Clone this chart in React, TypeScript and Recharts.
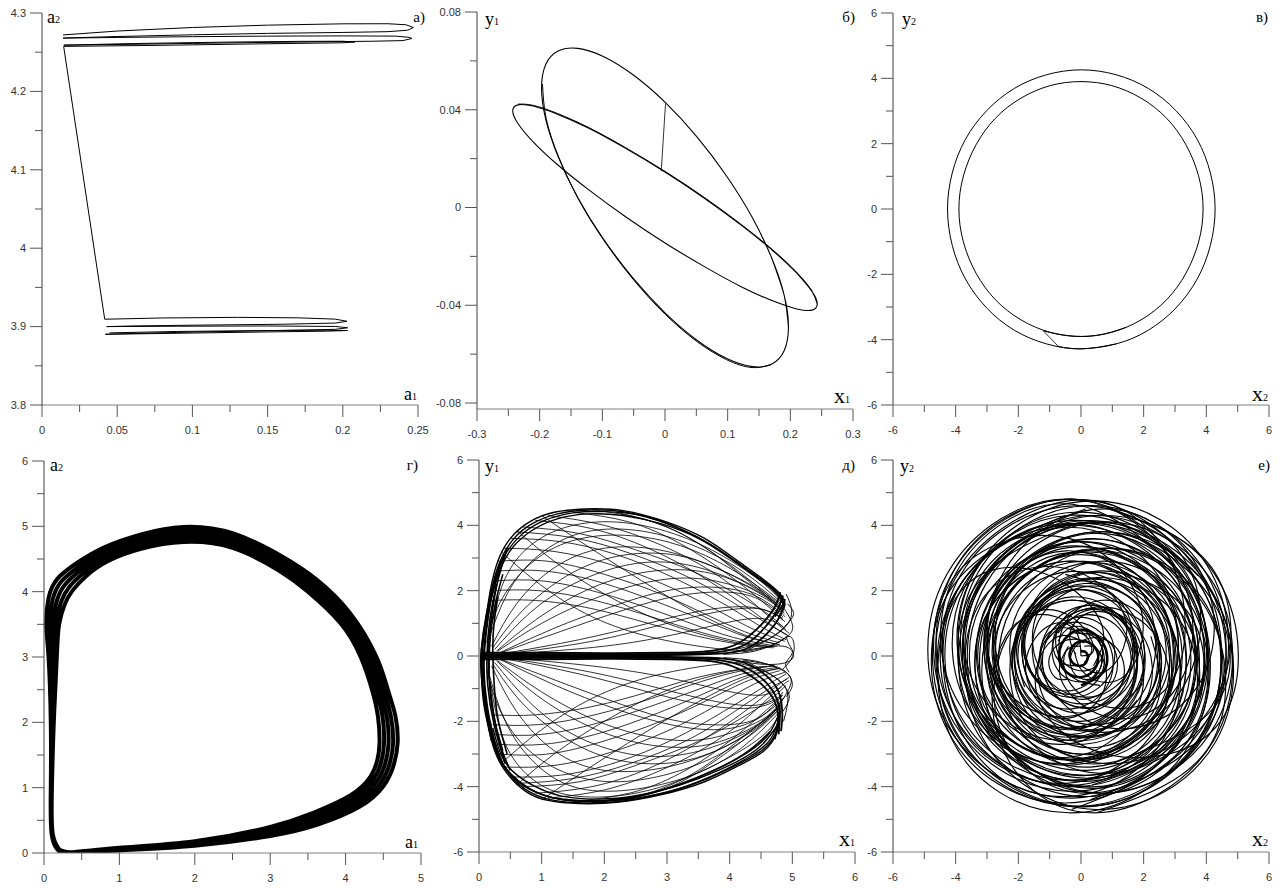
import React from 'react';
import { LineChart, Line, XAxis, YAxis } from 'recharts';

type Pt = [number, number];
type Series = { pts: Pt[]; w?: number; curve?: 'linear' | 'natural' };

// ---- а) a1–a2 ----
const aXMajor = [0, 0.05, 0.1, 0.15, 0.2, 0.25];
const aXMinor = [0.025, 0.075, 0.125, 0.175, 0.225];
const aYMajor = [3.8, 3.9, 4, 4.1, 4.2, 4.3];
const aYMinor = [3.85, 3.95, 4.05, 4.15, 4.25];

const aUpper: Pt[] = [
  [0.014, 4.272], [0.05, 4.277], [0.1, 4.2815], [0.15, 4.2845], [0.2, 4.2862], [0.23, 4.2863],
  [0.242, 4.285], [0.247, 4.2815], [0.243, 4.278], [0.23, 4.2762], [0.2, 4.2752], [0.15, 4.274],
  [0.1, 4.2722], [0.05, 4.27], [0.014, 4.268], [0.05, 4.2688], [0.1, 4.2698], [0.15, 4.2705],
  [0.2, 4.2708], [0.235, 4.2705], [0.244, 4.269], [0.246, 4.2675], [0.24, 4.2648], [0.22, 4.264],
  [0.15, 4.2625], [0.1, 4.2612], [0.05, 4.2598], [0.0145, 4.259], [0.06, 4.261], [0.12, 4.2628],
  [0.17, 4.2638], [0.2, 4.264], [0.208, 4.263], [0.2, 4.262], [0.14, 4.2605], [0.08, 4.2588],
  [0.0144, 4.2574],
];
const aDrop: Pt[] = [[0.0144, 4.2574], [0.0417, 3.9094]];
const aLower: Pt[] = [
  [0.0417, 3.9094], [0.08, 3.911], [0.13, 3.9118], [0.17, 3.9112], [0.195, 3.9095], [0.2028, 3.9068],
  [0.195, 3.9045], [0.16, 3.903], [0.1, 3.9018], [0.06, 3.9008], [0.043, 3.9], [0.09, 3.9005],
  [0.15, 3.9008], [0.195, 3.9002], [0.2032, 3.8985], [0.195, 3.8965], [0.15, 3.8948], [0.1, 3.893],
  [0.06, 3.8912], [0.0421, 3.8902], [0.09, 3.8915], [0.15, 3.8932], [0.19, 3.8942], [0.2032, 3.895],
  [0.19, 3.8954], [0.14, 3.8948], [0.09, 3.8938], [0.045, 3.892],
];

// ---- б) x1–y1 ----
const bXMajor = [-0.3, -0.2, -0.1, 0, 0.1, 0.2, 0.3];
const bXMinor = [-0.25, -0.15, -0.05, 0.05, 0.15, 0.25];
const bYMajor = [-0.08, -0.04, 0, 0.04, 0.08];
const bYMinor = [-0.06, -0.02, 0.02, 0.06];

const bWide: Pt[] = [
  [0.197, -0.049], [0.1903, -0.0361], [0.1706, -0.0209], [0.1393, -0.0041], [0.0985, 0.0128],
  [0.051, 0.0289], [0, 0.0431], [-0.051, 0.0543], [-0.0985, 0.0618], [-0.1393, 0.0651],
  [-0.1706, 0.064], [-0.1903, 0.0585], [-0.197, 0.049], [-0.1903, 0.0361], [-0.1706, 0.0209],
  [-0.1393, 0.0041], [-0.0985, -0.0128], [-0.051, -0.0289], [0, -0.0431], [0.051, -0.0543],
  [0.0985, -0.0618], [0.1393, -0.0651], [0.1706, -0.064], [0.1903, -0.0585], [0.197, -0.049],
  [0.1903, -0.0361], [0.1706, -0.0209],
];
const bWideTrace: Pt[] = [
  [-0.1955, 0.0505], [-0.1895, 0.0363], [-0.1697, 0.0207], [-0.1385, 0.0036], [-0.0978, -0.0134],
  [-0.0505, -0.0295], [0.0003, -0.0437], [0.0512, -0.0549], [0.0985, -0.0623], [0.139, -0.0655],
  [0.1695, -0.0643],
];
const bFlat: Pt[] = [
  [0.243, -0.0395], [0.2347, -0.0344], [0.2104, -0.0269], [0.1718, -0.0176], [0.1215, -0.0072],
  [0.0629, 0.0038], [0, 0.0145], [-0.0629, 0.0242], [-0.1215, 0.0324], [-0.1718, 0.0382],
  [-0.2104, 0.0415], [-0.2347, 0.042], [-0.243, 0.0395], [-0.2347, 0.0344], [-0.2104, 0.0269],
  [-0.1718, 0.0176], [-0.1215, 0.0072], [-0.0629, -0.0038], [0, -0.0145], [0.0629, -0.0242],
  [0.1215, -0.0324], [0.1718, -0.0382], [0.2104, -0.0415], [0.2347, -0.042], [0.243, -0.0395],
  [0.2347, -0.0344], [0.2104, -0.0269],
];
const bFlatTrace: Pt[] = [
  [-0.2347, 0.0423], [-0.2104, 0.0418], [-0.1718, 0.0385], [-0.1215, 0.0327], [-0.0629, 0.0245],
  [0, 0.0148], [0.0629, 0.0041], [0.1215, -0.0069], [0.1718, -0.0173], [0.2104, -0.0266],
  [0.2347, -0.0341],
];
const bJump: Pt[] = [[0.0008, 0.0425], [-0.006, 0.0148]];

// ---- в) x2–y2 ----
const sixMajor = [-6, -4, -2, 0, 2, 4, 6];
const sixMinor = [-5, -3, -1, 1, 3, 5];

// both rings start where the short transient joins them
const cOuter: Pt[] = [
  [-0.72, -4.21], [0.01, -4.28], [1.12, -4.13], [2.15, -3.71], [3.03, -3.03], [3.71, -2.14],
  [4.13, -1.11], [4.28, 0], [4.13, 1.1], [3.71, 2.13], [3.03, 3.01], [2.15, 3.69], [1.12, 4.11],
  [0.01, 4.26], [-1.1, 4.11], [-2.13, 3.69], [-3.01, 3.01], [-3.69, 2.13], [-4.11, 1.1], [-4.26, 0],
  [-4.11, -1.11], [-3.69, -2.14], [-3.01, -3.03], [-2.13, -3.71], [-1.1, -4.13], [0.01, -4.28],
  [1.12, -4.13],
];
const cInner: Pt[] = [
  [-1.2, -3.73], [-0.4, -3.88], [0.5, -3.87], [1.45, -3.62], [2.35, -3.11], [3.07, -2.39],
  [3.58, -1.5], [3.86, -0.51], [3.86, 0.51], [3.58, 1.5], [3.07, 2.39], [2.35, 3.11], [1.45, 3.62],
  [0.5, 3.87], [-0.5, 3.87], [-1.45, 3.62], [-2.35, 3.11], [-3.07, 2.39], [-3.58, 1.5],
  [-3.86, 0.51], [-3.86, -0.51], [-3.58, -1.5], [-3.07, -2.39], [-2.35, -3.11], [-1.45, -3.62],
  [-0.5, -3.87], [0.5, -3.87], [1.45, -3.62],
];
const cJump: Pt[] = [[-1.2, -3.73], [-0.72, -4.21]];

// ---- г) a1–a2 ----
const gXMajor = [0, 1, 2, 3, 4, 5];
const gXMinor = [0.5, 1.5, 2.5, 3.5, 4.5];
const gYMajor = [0, 1, 2, 3, 4, 5, 6];
const gYMinor = [0.5, 1.5, 2.5, 3.5, 4.5, 5.5];

const gLoops: Pt[][] = [
  [[0.35, 0], [1, 0.04], [2, 0.11], [3, 0.26], [3.62, 0.43], [4.19, 0.71], [4.5, 1.02], [4.63, 1.32],
   [4.69, 1.68], [4.66, 2.1], [4.56, 2.5], [4.41, 3.0], [4.06, 3.67], [3.62, 4.18], [3.17, 4.53],
   [2.51, 4.89], [1.85, 4.99], [1.3, 4.88], [0.8, 4.68], [0.45, 4.45], [0.18, 4.2], [0.06, 3.9],
   [0.03, 3.5], [0.06, 3], [0.09, 2], [0.09, 1], [0.1, 0.3], [0.18, 0.05]],
  [[0.35, 0.005], [1, 0.06], [2, 0.145], [3, 0.33], [3.6, 0.525], [4.125, 0.795], [4.415, 1.095],
   [4.525, 1.37], [4.57, 1.68], [4.545, 2.09], [4.455, 2.5], [4.305, 3.0], [3.995, 3.595],
   [3.56, 4.09], [3.145, 4.425], [2.505, 4.78], [1.85, 4.875], [1.3, 4.77], [0.825, 4.575],
   [0.5, 4.34], [0.28, 4.11], [0.17, 3.86], [0.115, 3.5], [0.12, 3], [0.11, 2], [0.097, 1],
   [0.108, 0.3], [0.19, 0.055]],
  [[0.35, 0.003], [1, 0.05], [2, 0.128], [3, 0.295], [3.61, 0.478], [4.158, 0.753], [4.458, 1.058],
   [4.578, 1.345], [4.63, 1.68], [4.6, 2.095], [4.508, 2.5], [4.358, 3.0], [4.03, 3.633],
   [3.59, 4.135], [3.16, 4.478], [2.51, 4.835], [1.85, 4.933], [1.3, 4.825], [0.81, 4.628],
   [0.475, 4.395], [0.23, 4.155], [0.115, 3.88], [0.07, 3.5], [0.09, 3], [0.1, 2], [0.093, 1],
   [0.104, 0.3], [0.185, 0.053]],
  [[0.35, 0.01], [1, 0.08], [2, 0.18], [3, 0.4], [3.58, 0.62], [4.06, 0.88], [4.33, 1.17],
   [4.42, 1.42], [4.45, 1.68], [4.43, 2.08], [4.35, 2.5], [4.2, 3.0], [3.93, 3.52], [3.5, 4],
   [3.12, 4.32], [2.5, 4.67], [1.85, 4.76], [1.3, 4.66], [0.85, 4.47], [0.55, 4.23], [0.38, 4.02],
   [0.28, 3.82], [0.2, 3.5], [0.17, 3], [0.13, 2], [0.105, 1], [0.115, 0.3], [0.2, 0.06]],
  [[0.35, 0.008], [1, 0.07], [2, 0.163], [3, 0.365], [3.59, 0.573], [4.093, 0.838], [4.373, 1.133],
   [4.473, 1.395], [4.51, 1.68], [4.49, 2.085], [4.403, 2.5], [4.253, 3.0], [3.96, 3.558],
   [3.53, 4.045], [3.13, 4.373], [2.5, 4.725], [1.85, 4.818], [1.3, 4.715], [0.84, 4.523],
   [0.525, 4.285], [0.33, 4.065], [0.225, 3.84], [0.16, 3.5], [0.14, 3], [0.12, 2], [0.101, 1],
   [0.112, 0.3], [0.195, 0.058], [0.35, 0.004]],
];

// ---- д) x1–y1 ----
const dXMajor = [0, 1, 2, 3, 4, 5, 6];
const dXMinor = [0.5, 1.5, 2.5, 3.5, 4.5, 5.5];

const dBand: Pt[][] = [
  [[0.05, 0.05], [1, 0.06], [2, 0.05], [3, 0.06], [3.8, 0.12], [4.25, 0.35], [4.55, 0.85], [4.76, 1.4], [4.85, 1.85]],
  [[0.05, 0.1], [1, 0.1], [2, 0.09], [3, 0.1], [3.7, 0.16], [4.15, 0.4], [4.5, 0.95], [4.72, 1.5], [4.81, 1.95]],
  [[0.05, 0], [1, 0.02], [2, 0.02], [3, 0.03], [3.9, 0.08], [4.35, 0.3], [4.65, 0.8], [4.82, 1.3], [4.88, 1.75]],
  [[0.05, -0.05], [1, -0.06], [2, -0.05], [3, -0.06], [3.8, -0.12], [4.25, -0.35], [4.55, -0.75], [4.75, -1.3], [4.8, -1.9], [4.78, -2.4]],
  [[0.05, -0.1], [1, -0.1], [2, -0.09], [3, -0.1], [3.7, -0.16], [4.15, -0.4], [4.5, -0.85], [4.72, -1.4], [4.77, -2.0], [4.72, -2.55]],
  [[0.05, 0], [1, -0.02], [2, -0.02], [3, -0.03], [3.9, -0.08], [4.35, -0.3], [4.65, -0.72], [4.8, -1.2], [4.84, -1.8], [4.82, -2.3]],
];
const dFan: Pt[][] = [
  [[3.9, 0.05], [4.4, 0.15], [4.8, 0.45], [5.0, 0.8], [4.95, 1.2], [4.85, 1.5]],
  [[3.9, -0.05], [4.4, -0.15], [4.8, -0.4], [4.98, -0.7], [4.92, -1.1], [4.82, -1.4]],
  [[4.0, 0.1], [4.5, 0.25], [4.85, 0.3], [5.0, 0.1], [4.9, -0.2], [4.95, -0.5]],
  [[4.0, -0.1], [4.5, -0.25], [4.9, -0.2], [5.02, 0.05], [4.95, 0.35], [4.9, 0.6]],
  [[4.1, 0.2], [4.6, 0.5], [4.9, 0.95], [5.02, 1.3], [4.92, 1.6]],
  [[4.1, -0.2], [4.6, -0.5], [4.88, -0.95], [4.95, -1.3], [4.85, -1.7]],
  [[4.2, 0.12], [4.7, 0.35], [4.95, 0.6], [5.03, 0.3], [4.98, -0.1], [4.85, -0.4]],
  [[4.2, -0.12], [4.7, -0.3], [4.93, -0.55], [5.0, -0.9], [4.9, -1.25]],
  [[4.3, 0.2], [4.7, 0.6], [4.95, 1.05], [4.98, 1.5], [4.9, 1.9]],
  [[4.3, -0.2], [4.68, -0.6], [4.9, -1.0], [4.92, -1.5], [4.86, -2.0]],
];
const dEdge: Pt[][] = [
  [[0.1, 1.0], [0.18, 2.0], [0.3, 2.9], [0.5, 3.6], [0.8, 4.1], [1.2, 4.4], [1.7, 4.5], [2.3, 4.45], [3.0, 4.1], [3.6, 3.6], [4.1, 2.95], [4.5, 2.4], [4.78, 1.95], [4.85, 1.6], [4.72, 1.2]],
  [[0.12, 1.2], [0.22, 2.2], [0.36, 3.0], [0.56, 3.6], [0.85, 4.05], [1.25, 4.35], [1.75, 4.47], [2.35, 4.4], [3.0, 4.05], [3.6, 3.52], [4.1, 2.88], [4.5, 2.35], [4.8, 1.9], [4.88, 1.55], [4.78, 1.2]],
  [[0.15, 1.5], [0.28, 2.5], [0.45, 3.2], [0.7, 3.75], [1.05, 4.15], [1.5, 4.38], [2.0, 4.42], [2.6, 4.3], [3.2, 3.9], [3.75, 3.35], [4.2, 2.75], [4.55, 2.25], [4.8, 1.85], [4.86, 1.5]],
  [[0.2, 1.8], [0.35, 2.7], [0.55, 3.35], [0.85, 3.85], [1.25, 4.2], [1.75, 4.35], [2.3, 4.3], [2.9, 4.05], [3.5, 3.6], [4.0, 3.0], [4.4, 2.45], [4.7, 2.0], [4.85, 1.65]],
  [[0.08, -1.0], [0.14, -2.0], [0.25, -2.9], [0.45, -3.6], [0.75, -4.15], [1.1, -4.42], [1.6, -4.52], [2.2, -4.48], [2.9, -4.25], [3.6, -3.85], [4.15, -3.35], [4.55, -2.9], [4.76, -2.3], [4.8, -1.6]],
  [[0.1, -1.2], [0.17, -2.2], [0.3, -3.0], [0.5, -3.65], [0.8, -4.15], [1.2, -4.42], [1.7, -4.5], [2.3, -4.44], [3.0, -4.18], [3.65, -3.75], [4.2, -3.25], [4.6, -2.75], [4.78, -2.1], [4.8, -1.5]],
  [[0.12, -1.5], [0.2, -2.5], [0.35, -3.2], [0.6, -3.8], [0.95, -4.2], [1.4, -4.42], [1.9, -4.45], [2.5, -4.35], [3.2, -4.05], [3.8, -3.6], [4.3, -3.1], [4.65, -2.55], [4.8, -1.8]],
  [[0.15, -1.8], [0.25, -2.8], [0.42, -3.45], [0.7, -3.95], [1.1, -4.3], [1.6, -4.42], [2.2, -4.38], [2.9, -4.12], [3.5, -3.75], [4.1, -3.25], [4.5, -2.75], [4.75, -2.15]],
  [[0.18, -2.0], [0.3, -3.0], [0.5, -3.6], [0.8, -4.05], [1.2, -4.35], [1.75, -4.45], [2.4, -4.35], [3.1, -4.0], [3.7, -3.55], [4.25, -3.0], [4.62, -2.4], [4.8, -1.7]],
  [[0.22, -2.2], [0.36, -3.05], [0.58, -3.6], [0.9, -4.0], [1.3, -4.28], [1.85, -4.38], [2.5, -4.28], [3.2, -3.92], [3.8, -3.45], [4.3, -2.9], [4.65, -2.3]],
];
const dLeft: Pt[][] = [
  [[0.3, 2.6], [0.15, 1.5], [0.06, 0.3], [0.05, -0.5], [0.1, -1.6], [0.25, -2.8]],
  [[0.25, 2.3], [0.12, 1.3], [0.04, 0.2], [0.04, -0.6], [0.08, -1.5], [0.2, -2.6]],
  [[0.35, 2.9], [0.2, 1.8], [0.1, 0.6], [0.07, -0.4], [0.14, -1.8], [0.3, -3.0]],
  [[0.2, 2.0], [0.1, 1.0], [0.03, 0.0], [0.06, -1.0], [0.16, -2.2], [0.35, -3.2]],
  [[0.4, 3.1], [0.22, 2.0], [0.12, 0.8], [0.08, -0.2], [0.11, -1.2], [0.22, -2.4], [0.4, -3.4]],
  [[0.45, 3.3], [0.3, 2.3], [0.2, 1.2], [0.15, 0], [0.2, -1.3], [0.32, -2.6], [0.5, -3.5]],
  [[0.38, 2.5], [0.26, 1.6], [0.18, 0.6], [0.16, -0.5], [0.22, -1.7], [0.38, -2.9]],
  [[0.3, 1.8], [0.24, 1.0], [0.22, 0.2], [0.24, -0.8], [0.3, -1.9], [0.45, -3.0]],
  [[0.28, 2.2], [0.18, 1.2], [0.13, 0.1], [0.14, -0.9], [0.24, -2.1], [0.42, -3.3]],
];
const dInner: Pt[][] = [
  [[0.2, 0.3], [0.6, 1.6], [1.2, 2.7], [2.0, 3.3], [3.0, 3.2], [3.9, 2.6], [4.5, 2.0], [4.85, 1.5]],
  [[0.25, 0.2], [0.8, 1.3], [1.5, 2.2], [2.4, 2.8], [3.3, 2.8], [4.1, 2.3], [4.6, 1.8], [4.86, 1.4]],
  [[0.3, 0.15], [1.0, 1.0], [1.9, 1.8], [2.8, 2.3], [3.6, 2.35], [4.3, 2.0], [4.7, 1.6], [4.87, 1.3]],
  [[0.35, 0.1], [1.3, 0.75], [2.3, 1.4], [3.2, 1.85], [4.0, 1.95], [4.5, 1.7], [4.85, 1.2]],
  [[0.4, 0.08], [1.6, 0.5], [2.7, 1.0], [3.6, 1.4], [4.3, 1.5], [4.7, 1.3], [4.88, 1.05]],
  [[0.5, 0.06], [2.0, 0.3], [3.1, 0.65], [3.9, 1.0], [4.5, 1.15], [4.85, 0.9]],
  [[0.15, 0.5], [0.45, 1.9], [0.9, 3.0], [1.6, 3.75], [2.5, 3.85], [3.4, 3.4], [4.2, 2.6], [4.85, 1.6]],
  [[0.18, 0.8], [0.4, 2.3], [0.8, 3.35], [1.4, 3.95], [2.2, 4.1], [3.1, 3.75], [3.9, 3.05], [4.55, 2.2], [4.88, 1.55]],
  [[0.12, 0.4], [0.3, 1.5], [0.7, 2.6], [1.3, 3.4], [2.1, 3.7], [3.0, 3.5], [3.8, 2.9], [4.4, 2.2], [4.82, 1.6]],
  [[0.22, 0.25], [0.7, 1.4], [1.4, 2.45], [2.2, 3.05], [3.1, 3.1], [3.9, 2.6], [4.5, 1.95], [4.85, 1.45]],
  [[0.28, 0.15], [0.9, 1.1], [1.7, 2.0], [2.6, 2.55], [3.5, 2.6], [4.2, 2.2], [4.65, 1.7], [4.86, 1.35]],
  [[0.33, 0.1], [1.2, 0.85], [2.1, 1.5], [3.0, 2.0], [3.8, 2.1], [4.4, 1.85], [4.8, 1.35]],
  [[0.45, 0.07], [1.8, 0.45], [2.9, 0.95], [3.8, 1.35], [4.45, 1.45], [4.85, 1.15]],
  [[0.5, 3.6], [1.3, 3.5], [2.2, 3.1], [3.1, 2.4], [3.9, 1.6], [4.5, 0.9], [4.9, 0.5]],
  [[0.9, 4.15], [1.8, 3.9], [2.7, 3.3], [3.5, 2.5], [4.2, 1.6], [4.7, 0.9], [4.95, 0.6]],
  [[1.5, 4.4], [2.4, 4.1], [3.2, 3.45], [3.9, 2.6], [4.5, 1.7], [4.85, 1.1]],
  [[0.3, 2.9], [1.1, 2.9], [2.0, 2.5], [2.9, 1.9], [3.7, 1.2], [4.3, 0.7], [4.8, 0.4]],
  [[0.25, 2.3], [1.0, 2.3], [1.9, 1.95], [2.8, 1.4], [3.6, 0.85], [4.2, 0.5], [4.75, 0.3]],
  [[0.2, 1.7], [0.9, 1.7], [1.8, 1.45], [2.7, 1.0], [3.5, 0.6], [4.2, 0.35], [4.7, 0.25]],
  [[0.7, 3.95], [1.6, 3.75], [2.5, 3.25], [3.4, 2.6], [4.1, 1.9], [4.6, 1.3], [4.9, 0.8]],
  [[2.2, 4.4], [3.0, 3.95], [3.7, 3.2], [4.3, 2.35], [4.75, 1.6]],
  [[0.4, 3.3], [1.2, 3.2], [2.1, 2.8], [3.0, 2.15], [3.8, 1.4], [4.4, 0.8], [4.88, 0.45]],
  [[1.1, 4.3], [2.0, 4.0], [2.9, 3.4], [3.7, 2.6], [4.3, 1.75], [4.75, 1.0], [4.95, 0.7]],
  [[1.8, 4.48], [2.7, 4.15], [3.5, 3.45], [4.1, 2.6], [4.6, 1.8], [4.88, 1.2]],
  [[0.6, 3.8], [1.5, 3.62], [2.4, 3.15], [3.3, 2.45], [4.0, 1.7], [4.55, 1.05], [4.92, 0.65]],
  [[0.28, 2.6], [1.05, 2.6], [1.95, 2.25], [2.85, 1.65], [3.65, 1.05], [4.25, 0.6], [4.78, 0.35]],
  [[0.22, 2.0], [0.95, 2.0], [1.85, 1.7], [2.75, 1.2], [3.55, 0.72], [4.2, 0.42], [4.72, 0.28]],
  [[0.35, 3.2], [0.9, 2.3], [1.7, 1.3], [2.7, 0.6], [3.7, 0.25], [4.3, 0.15]],
  [[0.6, 3.85], [1.2, 2.9], [2.0, 1.9], [3.0, 1.0], [4.0, 0.45], [4.6, 0.3]],
  [[1.0, 4.3], [1.7, 3.4], [2.6, 2.3], [3.5, 1.3], [4.3, 0.6], [4.8, 0.35]],
  [[0.2, -0.3], [0.6, -1.7], [1.2, -2.9], [2.0, -3.5], [3.0, -3.4], [3.9, -2.8], [4.5, -2.1], [4.8, -1.5]],
  [[0.25, -0.2], [0.8, -1.4], [1.5, -2.4], [2.4, -3.0], [3.3, -3.0], [4.1, -2.5], [4.6, -1.9], [4.82, -1.4]],
  [[0.3, -0.15], [1.0, -1.1], [1.9, -2.0], [2.8, -2.5], [3.6, -2.55], [4.3, -2.15], [4.7, -1.7], [4.84, -1.3]],
  [[0.35, -0.1], [1.3, -0.8], [2.3, -1.5], [3.2, -2.0], [4.0, -2.1], [4.5, -1.85], [4.82, -1.25]],
  [[0.4, -0.08], [1.6, -0.55], [2.7, -1.1], [3.6, -1.5], [4.3, -1.6], [4.7, -1.4], [4.85, -1.1]],
  [[0.5, -0.06], [2.0, -0.35], [3.1, -0.7], [3.9, -1.05], [4.5, -1.2], [4.83, -0.95]],
  [[0.15, -0.5], [0.42, -2.0], [0.85, -3.2], [1.5, -4.0], [2.4, -4.1], [3.4, -3.65], [4.2, -2.8], [4.8, -1.7]],
  [[0.18, -0.8], [0.38, -2.5], [0.75, -3.6], [1.3, -4.2], [2.1, -4.3], [3.0, -3.95], [3.9, -3.2], [4.55, -2.4], [4.82, -1.7]],
  [[0.12, -0.4], [0.32, -1.6], [0.72, -2.75], [1.35, -3.55], [2.15, -3.85], [3.05, -3.6], [3.85, -3.0], [4.45, -2.25], [4.8, -1.6]],
  [[0.22, -0.25], [0.72, -1.5], [1.45, -2.6], [2.25, -3.2], [3.15, -3.25], [3.95, -2.75], [4.5, -2.05], [4.83, -1.5]],
  [[0.28, -0.15], [0.92, -1.2], [1.75, -2.15], [2.65, -2.7], [3.55, -2.75], [4.25, -2.3], [4.66, -1.8], [4.84, -1.4]],
  [[0.33, -0.1], [1.22, -0.9], [2.15, -1.6], [3.05, -2.1], [3.85, -2.25], [4.42, -1.95], [4.8, -1.4]],
  [[0.45, -0.07], [1.8, -0.5], [2.9, -1.0], [3.8, -1.4], [4.45, -1.5], [4.84, -1.2]],
  [[0.5, -3.7], [1.3, -3.65], [2.2, -3.25], [3.1, -2.55], [3.9, -1.7], [4.5, -1.0], [4.9, -0.55]],
  [[0.9, -4.2], [1.8, -4.0], [2.7, -3.45], [3.5, -2.65], [4.2, -1.75], [4.7, -1.0], [4.95, -0.65]],
  [[1.5, -4.45], [2.4, -4.2], [3.2, -3.6], [3.9, -2.75], [4.5, -1.8], [4.85, -1.2]],
  [[0.3, -3.0], [1.1, -3.0], [2.0, -2.6], [2.9, -2.0], [3.7, -1.3], [4.3, -0.75], [4.8, -0.45]],
  [[0.25, -2.4], [1.0, -2.4], [1.9, -2.05], [2.8, -1.5], [3.6, -0.95], [4.2, -0.55], [4.75, -0.35]],
  [[0.2, -1.8], [0.9, -1.8], [1.8, -1.55], [2.7, -1.1], [3.5, -0.65], [4.2, -0.4], [4.7, -0.3]],
  [[0.7, -4.0], [1.6, -3.85], [2.5, -3.35], [3.4, -2.7], [4.1, -2.0], [4.6, -1.4], [4.9, -0.9]],
  [[2.2, -4.45], [3.0, -4.05], [3.7, -3.3], [4.3, -2.45], [4.75, -1.7]],
  [[0.4, -3.4], [1.2, -3.35], [2.1, -2.95], [3.0, -2.3], [3.8, -1.5], [4.4, -0.85], [4.88, -0.5]],
  [[1.1, -4.35], [2.0, -4.1], [2.9, -3.5], [3.7, -2.7], [4.3, -1.85], [4.75, -1.05], [4.95, -0.75]],
  [[1.8, -4.5], [2.7, -4.2], [3.5, -3.5], [4.1, -2.65], [4.6, -1.85], [4.88, -1.25]],
  [[0.6, -3.9], [1.5, -3.75], [2.4, -3.3], [3.3, -2.6], [4.0, -1.8], [4.55, -1.1], [4.92, -0.7]],
  [[0.28, -2.7], [1.05, -2.7], [1.95, -2.35], [2.85, -1.75], [3.65, -1.1], [4.25, -0.62], [4.78, -0.38]],
  [[0.22, -2.1], [0.95, -2.1], [1.85, -1.8], [2.75, -1.3], [3.55, -0.78], [4.2, -0.45], [4.72, -0.3]],
  [[0.35, -3.3], [0.9, -2.4], [1.7, -1.4], [2.7, -0.65], [3.7, -0.28], [4.3, -0.16]],
  [[0.6, -3.95], [1.2, -3.0], [2.0, -2.0], [3.0, -1.05], [4.0, -0.48], [4.6, -0.32]],
  [[1.0, -4.4], [1.7, -3.5], [2.6, -2.4], [3.5, -1.4], [4.3, -0.65], [4.8, -0.38]],
];

// ---- е) x2–y2 ----
const eSpirals: Pt[][] = [
  [[0.1, 0.3], [0.5, 0.23], [0.64, -0.31], [0.1, -0.78], [-0.71, -0.47], [-0.85, 0.55], [0.1, 1.26],
   [1.33, 0.71], [1.47, -0.79], [0.1, -1.74], [-1.55, -0.95], [-1.68, 1.03], [0.1, 2.22], [2.16, 1.19],
   [2.3, -1.27], [0.1, -2.7], [-2.38, -1.43], [-2.52, 1.51], [0.1, 3.18], [2.99, 1.67], [3.13, -1.75],
   [0.1, -3.66], [-3.21, -1.91], [-3.35, 1.99], [0.1, 4.14], [3.82, 2.15], [3.96, -2.23], [0.1, -4.62],
   [-3.97, -2.35], [-4.01, 2.38], [0.1, 4.78], [3.0, 2.6], [3.0, -0.6], [1.2, -1.6], [-0.3, -0.9],
   [-0.5, 0.1], [0, 0.3]],
  [[-0.73, 0.45], [-0.3, 0.89], [0.46, 0.64], [0.63, -0.34], [-0.3, -1.06], [-1.56, -0.53], [-1.72, 1.02],
   [-0.3, 2.03], [1.45, 1.21], [1.61, -0.91], [-0.3, -2.2], [-2.54, -1.1], [-2.71, 1.59], [-0.3, 3.17],
   [2.44, 1.78], [2.6, -1.48], [-0.3, -3.34], [-3.53, -1.67], [-3.69, 2.16], [-0.3, 4.31], [3.42, 2.35],
   [3.55, -2.03], [-0.3, -4.35], [-4.28, -2.1], [-4.28, 2.5], [-0.3, 4.8], [3.2, 2.4], [3.1, -0.9],
   [1.0, -1.9], [-0.6, -0.8], [-0.4, 0.3]],
  [[0.52, -0.43], [0.3, -0.7], [-0.18, -0.58], [-0.31, 0.05], [0.3, 0.55], [1.17, 0.2], [1.3, -0.88],
   [0.3, -1.6], [-0.96, -1.03], [-1.09, 0.5], [0.3, 1.45], [1.95, 0.65], [2.08, -1.33], [0.3, -2.5],
   [-1.74, -1.48], [-1.87, 0.95], [0.3, 2.35], [2.72, 1.1], [2.85, -1.78], [0.3, -3.4], [-2.51, -1.93],
   [-2.64, 1.4], [0.3, 3.25], [3.5, 1.55], [3.63, -2.23], [0.3, -4.3], [-3.29, -2.38], [-3.42, 1.85],
   [0.3, 4.1], [4.2, 1.95], [4.24, -2.58], [0.3, -4.8], [-2.6, -2.6], [-2.4, 0.6], [-0.8, 1.2],
   [0.3, 0.4], [0.1, -0.2]],
  [[-0.2, 0.7], [0.51, 0.51], [0.7, -0.42], [-0.2, -1.16], [-1.48, -0.64], [-1.67, 0.95], [-0.2, 2.02],
   [1.65, 1.17], [1.84, -1.08], [-0.2, -2.48], [-2.62, -1.3], [-2.82, 1.61], [-0.2, 3.34], [2.8, 1.83],
   [2.99, -1.74], [-0.2, -3.8], [-3.77, -1.96], [-3.96, 2.27], [-0.2, 4.6], [3.83, 2.43], [3.91, -2.28],
   [-0.2, -4.6], [-4.18, -2.2], [-4.1, 2.35], [-0.4, 3.6], [1.9, 1.5], [1.4, -0.6], [0.2, -0.6],
   [-0.2, 0.1]],
  [[0.6, -0.9], [-0.44, -0.5], [-0.61, 0.8], [0.6, 1.7], [2.16, 1.0], [2.33, -0.9], [0.6, -2.1],
   [-1.48, -1.1], [-1.65, 1.4], [0.6, 2.9], [3.2, 1.6], [3.37, -1.5], [0.6, -3.3], [-2.52, -1.7],
   [-2.69, 2.0], [0.6, 4.1], [4.24, 2.2], [4.32, -2.05], [0.6, -4.2], [-3.12, -2.05], [-3.04, 2.2],
   [0.6, 4.3], [4.4, 2.3], [4.45, -2.0], [0.8, -3.0], [-1.4, -1.2], [-0.9, 0.5], [0.1, 0.4]],
  [[2.23, 0.6], [2.41, -1.5], [0.5, -2.8], [-1.75, -1.7], [-1.92, 1.0], [0.5, 2.6], [3.27, 1.2],
   [3.44, -2.1], [0.5, -4.0], [-2.79, -2.3], [-2.96, 1.6], [0.5, 3.8], [4.27, 1.78], [4.31, -2.6],
   [0.5, -4.7], [-3.14, -2.5], [-3.3, 1.5], [-0.6, 2.7], [1.4, 1.2], [0.9, -0.4], [0, -0.3]],
  [[-1.8, -0.95], [-1.97, 0.65], [-0.5, 1.7], [1.32, 0.85], [1.49, -1.35], [-0.5, -2.7], [-2.84, -1.55],
   [-3.01, 1.25], [-0.5, 2.9], [2.36, 1.45], [2.53, -1.95], [-0.5, -3.9], [-3.88, -2.15], [-4.05, 1.85],
   [-0.5, 4.05], [3.22, 1.95], [3.22, -2.35], [-0.5, -4.5], [-4.22, -2.35], [-4.22, 1.95], [-0.5, 4.3]],
  [[0.55, 0.5], [0.69, 0.01], [0.2, -0.44], [-0.59, -0.16], [-0.74, 0.84], [0.2, 1.55], [1.43, 1.01],
   [1.58, -0.5], [0.2, -1.46], [-1.47, -0.67], [-1.62, 1.35], [0.2, 2.57], [2.31, 1.52], [2.46, -1.01],
   [0.2, -2.48], [-2.35, -1.18], [-2.5, 1.86], [0.2, 3.59], [3.2, 2.03], [3.34, -1.52], [0.2, -3.5],
   [-3.24, -1.69], [-3.39, 2.37], [0.2, 4.6], [4.01, 2.5], [4.05, -1.93], [0.2, -4.2], [-2.6, -2.2],
   [-2.2, 0.8], [-0.5, 1.3], [0.4, 0.3], [0, 0]],
  [[-0.4, -0.7], [-0.83, -0.65], [-1.01, -0.05], [-0.4, 0.5], [0.55, 0.15], [0.73, -1.05], [-0.4, -1.9],
   [-1.87, -1.25], [-2.05, 0.55], [-0.4, 1.7], [1.59, 0.75], [1.77, -1.65], [-0.4, -3.1], [-2.91, -1.85],
   [-3.08, 1.15], [-0.4, 2.9], [2.63, 1.35], [2.8, -2.25], [-0.4, -4.3], [-3.95, -2.45], [-4.12, 1.75],
   [-0.4, 4.0], [3.5, 1.85], [3.5, -2.65], [-0.4, -4.8], [-4.12, -2.55], [-4.04, 1.7], [-1.4, 2.6],
   [0.6, 1.1], [0.4, -0.3]],
  [[-0.74, 0.7], [0.3, 1.42], [1.55, 0.82], [1.65, -0.68], [0.3, -1.58], [-1.26, -0.8], [-1.36, 1.06],
   [0.3, 2.14], [2.17, 1.18], [2.27, -1.04], [0.3, -2.3], [-1.88, -1.16], [-1.99, 1.42], [0.3, 2.86],
   [2.79, 1.54], [2.9, -1.4], [0.3, -3.02], [-2.51, -1.52], [-2.61, 1.78], [0.3, 3.58], [3.42, 1.9],
   [3.52, -1.76], [0.3, -3.74], [-3.13, -1.88], [-3.23, 2.14], [0.3, 4.3], [4.02, 2.25], [4.11, -2.1],
   [0.3, -4.4]],
  [[1.97, -0.85], [-0.2, -2.25], [-2.62, -1.0], [-2.75, 1.88], [-0.2, 3.5], [2.61, 2.03], [2.74, -1.3],
   [-0.2, -3.15], [-3.4, -1.45], [-3.53, 2.33], [-0.2, 4.4], [3.39, 2.48], [3.52, -1.75], [-0.2, -4.0],
   [-4.05, -1.83], [-4.05, 2.63], [-0.2, 4.8], [3.52, 2.55], [2.92, -1.4], [-0.2, -2.2], [-1.76, -0.5],
   [-1.07, 0.9], [-0.2, 0.8], [0, 0]],
  [[0.8, 2.7], [3.48, 1.25], [3.57, -1.9], [0.8, -3.6], [-2.14, -2.0], [-2.23, 1.45], [0.8, 3.3],
   [4.0, 1.55], [4.09, -2.2], [0.8, -4.2], [-2.66, -2.3], [-2.75, 1.75], [0.8, 3.8], [4.25, 1.6],
   [4.3, -1.5], [1.2, -3.2]],
  [[0.9, 4.5], [4.28, 2.55], [4.28, -1.35], [0.9, -3.3], [-2.48, -1.35], [-2.48, 2.55], [0.9, 4.5],
   [3.93, 2.35], [3.67, -1.0], [0.9, -2.2], [-1.2, -0.6], [-0.9, 0.8], [0.2, 0.6]],
  [[0.15, 0.7], [0.96, 0.37], [1.09, -0.64], [0.15, -1.32], [-1.03, -0.78], [-1.15, 0.65], [0.15, 1.54],
   [1.69, 0.79], [1.81, -1.06], [0.15, -2.16], [-1.76, -1.2], [-1.88, 1.07], [0.15, 2.38], [2.42, 1.21],
   [2.54, -1.48], [0.15, -3.0], [-2.48, -1.62], [-2.6, 1.49], [0.15, 3.22], [3.15, 1.63], [3.27, -1.9],
   [0.15, -3.84], [-3.21, -2.04], [-3.33, 1.91], [0.15, 4.06], [3.87, 2.05], [3.96, -2.3], [0.15, -4.6],
   [-3.79, -2.38], [-3.83, 2.2], [0.15, 4.5]],
  [[-0.15, -0.3], [-0.72, -0.13], [-0.86, 0.61], [-0.15, 1.18], [0.84, 0.77], [0.98, -0.45], [-0.15, -1.26],
   [-1.55, -0.61], [-1.69, 1.09], [-0.15, 2.14], [1.67, 1.25], [1.81, -0.93], [-0.15, -2.22], [-2.38, -1.09],
   [-2.52, 1.57], [-0.15, 3.1], [2.5, 1.73], [2.64, -1.41], [-0.15, -3.18], [-3.22, -1.57], [-3.35, 2.05],
   [-0.15, 4.06], [3.33, 2.21], [3.47, -1.89], [-0.15, -4.14], [-4.05, -2.05], [-4.13, 2.5], [-0.15, 4.8],
   [3.75, 2.45]],
  [[1.56, 0.9], [1.65, -0.95], [0, -2.0], [-1.82, -1.05], [-1.91, 1.1], [0, 2.3], [2.08, 1.2], [2.17, -1.25],
   [0, -2.6], [-2.34, -1.35], [-2.42, 1.4], [0, 2.9], [2.6, 1.5], [2.68, -1.55], [0, -3.2], [-2.86, -1.65],
   [-2.94, 1.7], [0, 3.5], [3.12, 1.8], [3.2, -1.85], [0, -3.8], [-3.38, -1.95], [-3.46, 2.0], [0, 4.1]],
  [[-1.17, 0.4], [-0.3, 1.03], [0.79, 0.53], [0.9, -0.8], [-0.3, -1.62], [-1.73, -0.93], [-1.84, 0.79],
   [-0.3, 1.81], [1.47, 0.92], [1.58, -1.19], [-0.3, -2.4], [-2.4, -1.32], [-2.52, 1.18], [-0.3, 2.59],
   [2.14, 1.31], [2.25, -1.58], [-0.3, -3.18], [-3.08, -1.71], [-3.19, 1.57], [-0.3, 3.37], [2.82, 1.7],
   [2.93, -1.97], [-0.3, -3.96], [-3.76, -2.1], [-3.87, 1.96], [-0.3, 4.15], [3.49, 2.09], [3.6, -2.35],
   [-0.3, -4.7]],
  [[-0.17, 0.05], [-0.34, 0.75], [0.35, 1.35], [1.39, 0.95], [1.56, -0.35], [0.35, -1.25], [-1.21, -0.55],
   [-1.38, 1.35], [0.35, 2.55], [2.43, 1.55], [2.6, -0.95], [0.35, -2.45], [-2.25, -1.15], [-2.42, 1.95],
   [0.35, 3.75], [3.47, 2.15], [3.64, -1.55], [0.35, -3.65], [-3.29, -1.75], [-3.42, 2.53], [0.35, 4.75],
   [4.16, 2.55], [4.12, -1.83], [0.35, -3.95]],
  [[-0.5, 2.5], [1.34, 1.56], [1.44, -0.62], [-0.5, -1.86], [-2.65, -0.74], [-2.75, 1.8], [-0.5, 3.22],
   [1.96, 1.92], [2.06, -0.98], [-0.5, -2.58], [-3.27, -1.1], [-3.38, 2.16], [-0.5, 3.94], [2.58, 2.28],
   [2.69, -1.34], [-0.5, -3.3], [-3.89, -1.46], [-4.0, 2.52], [-0.5, 4.66], [3.14, 2.6]],
  [[1.8, -1.35], [0.5, -2.25], [-1.06, -1.5], [-1.19, 0.38], [0.5, 1.5], [2.45, 0.53], [2.58, -1.8],
   [0.5, -3.15], [-1.84, -1.95], [-1.97, 0.83], [0.5, 2.4], [3.23, 0.98], [3.36, -2.25], [0.5, -4.05],
   [-2.62, -2.4], [-2.75, 1.28], [0.5, 3.3], [4.01, 1.43], [4.14, -2.7], [0.5, -4.8]],
];
const eCore: Pt[] = [
  [0, 0.15], [0.17, 0.1], [0.2, -0.12], [0, -0.3], [-0.3, -0.17], [-0.33, 0.19], [0, 0.45], [0.45, 0.26],
  [0.5, -0.29], [0, -0.65], [-0.6, -0.35], [-0.62, 0.36], [0, 0.8], [0.7, 0.4], [0.75, -0.43], [0, -0.9],
];

const SANS = '"Liberation Sans", Arial, sans-serif';
const SERIF = '"Liberation Serif", "Times New Roman", serif';
const YW = 50;
const MT = 10;
const MR = 12;
const XH = 30;

const isMajor = (majors: number[], v: number) => majors.some((m) => Math.abs(m - v) < 1e-9);

function XTick(props: any) {
  const { x, y, payload, majors } = props;
  const v = payload.value;
  const major = isMajor(majors, v);
  const ay = y - 19;
  return (
    <g>
      <line x1={x} x2={x} y1={ay} y2={ay + (major ? 12 : 7)} stroke="#555" strokeWidth={1} />
      {major && (
        <text x={x} y={ay + 21} dy="0.71em" textAnchor="middle" fontSize={11} fontFamily={SANS} fill="#333">
          {String(v)}
        </text>
      )}
    </g>
  );
}

function YTick(props: any) {
  const { x, y, payload, majors } = props;
  const v = payload.value;
  const major = isMajor(majors, v);
  const ax = x + 16;
  return (
    <g>
      <line x1={ax - (major ? 12 : 7)} x2={ax} y1={y} y2={y} stroke="#555" strokeWidth={1} />
      {major && (
        <text x={ax - 16} y={y} dy="0.35em" textAnchor="end" fontSize={11} fontFamily={SANS} fill="#333">
          {String(v)}
        </text>
      )}
    </g>
  );
}

type PanelProps = {
  left: number;
  top: number;
  w: number;
  h: number;
  xDomain: [number, number];
  yDomain: [number, number];
  xMajor: number[];
  xMinor: number[];
  yMajor: number[];
  yMinor: number[];
  series: Series[];
  padBottom?: number;
};

function Panel({ left, top, w, h, xDomain, yDomain, xMajor, xMinor, yMajor, yMinor, series, padBottom = 0 }: PanelProps) {
  const xTicks = [...xMajor, ...xMinor].sort((p, q) => p - q);
  const yTicks = [...yMajor, ...yMinor].sort((p, q) => p - q);
  return (
    <div style={{ position: 'absolute', left: left - YW, top: top - MT }}>
      <LineChart width={YW + w + MR} height={MT + h + XH} margin={{ top: MT, right: MR, bottom: 0, left: 0 }}>
        <XAxis
          type="number"
          dataKey="x"
          domain={xDomain}
          allowDataOverflow
          ticks={xTicks}
          interval={0}
          height={XH}
          tickSize={12}
          tickMargin={7}
          tickLine={false}
          axisLine={{ stroke: '#808080' }}
          tick={(p: any) => <XTick {...p} majors={xMajor} />}
        />
        <YAxis
          type="number"
          domain={yDomain}
          allowDataOverflow
          ticks={yTicks}
          interval={0}
          width={YW}
          tickSize={12}
          tickMargin={4}
          tickLine={false}
          axisLine={{ stroke: '#404040' }}
          padding={{ top: 0, bottom: padBottom }}
          tick={(p: any) => <YTick {...p} majors={yMajor} />}
        />
        {series.map((s, i) => (
          <Line
            key={i}
            data={s.pts.map(([x, y]) => ({ x, y }))}
            dataKey="y"
            type={s.curve ?? 'natural'}
            stroke="#000"
            strokeWidth={s.w ?? 1}
            dot={false}
            activeDot={false}
            isAnimationActive={false}
          />
        ))}
      </LineChart>
    </div>
  );
}

// text placed by its baseline
function Txt({ x, right, base, size, children }: { x?: number; right?: number; base: number; size: number; children: React.ReactNode }) {
  const style: React.CSSProperties = {
    position: 'absolute',
    top: base - size * 0.8375,
    fontFamily: SERIF,
    fontSize: size,
    lineHeight: `${size}px`,
    whiteSpace: 'nowrap',
    color: '#000',
  };
  if (right !== undefined) style.right = 1280 - right;
  else style.left = x;
  return <div style={style}>{children}</div>;
}

function Name({ x, right, base, l, n, size = 18 }: { x?: number; right?: number; base: number; l: string; n: string; size?: number }) {
  return (
    <Txt x={x} right={right} base={base} size={size}>
      {l}
      <span style={{ fontSize: 10 }}>{n}</span>
    </Txt>
  );
}

export default function App() {
  return (
    <div style={{ position: 'absolute', left: 0, top: 0, width: 1280, height: 888, background: '#fff', overflow: 'hidden' }}>
      <Panel left={42} top={13} w={376} h={392} xDomain={[0, 0.25]} yDomain={[3.8, 4.3]}
        xMajor={aXMajor} xMinor={aXMinor} yMajor={aYMajor} yMinor={aYMinor}
        series={[
          { pts: aUpper, curve: 'linear' },
          { pts: aDrop, curve: 'linear' },
          { pts: aLower, curve: 'linear' },
        ]} />
      <Panel left={477} top={12} w={376} h={397} padBottom={6} xDomain={[-0.3, 0.3]} yDomain={[-0.08, 0.08]}
        xMajor={bXMajor} xMinor={bXMinor} yMajor={bYMajor} yMinor={bYMinor}
        series={[
          { pts: bWide, w: 1.1 },
          { pts: bWideTrace, w: 1 },
          { pts: bFlat, w: 1.1 },
          { pts: bFlatTrace, w: 1 },
          { pts: bJump, curve: 'linear', w: 0.8 },
        ]} />
      <Panel left={893} top={13} w={376} h={392} xDomain={[-6, 6]} yDomain={[-6, 6]}
        xMajor={sixMajor} xMinor={sixMinor} yMajor={sixMajor} yMinor={sixMinor}
        series={[
          { pts: cOuter },
          { pts: cInner },
          { pts: cJump, curve: 'linear', w: 0.8 },
        ]} />
      <Panel left={44} top={461} w={377} h={392} xDomain={[0, 5]} yDomain={[0, 6]}
        xMajor={gXMajor} xMinor={gXMinor} yMajor={gYMajor} yMinor={gYMinor}
        series={[{ pts: gLoops.flat(), w: 4 }]} />
      <Panel left={479} top={460} w={376} h={392} xDomain={[0, 6]} yDomain={[-6, 6]}
        xMajor={dXMajor} xMinor={dXMinor} yMajor={sixMajor} yMinor={sixMinor}
        series={[
          ...dInner.map((pts) => ({ pts, w: 0.8 })),
          ...dEdge.map((pts) => ({ pts, w: 1.4 })),
          ...dLeft.map((pts) => ({ pts, w: 1.6 })),
          ...dFan.map((pts) => ({ pts, w: 0.9 })),
          ...dBand.map((pts) => ({ pts, w: 1.8 })),
        ]} />
      <Panel left={893} top={460} w={376} h={392} xDomain={[-6, 6]} yDomain={[-6, 6]}
        xMajor={sixMajor} xMinor={sixMinor} yMajor={sixMajor} yMinor={sixMinor}
        series={[
          ...eSpirals.map((pts) => ({ pts, w: 1.15 })),
          { pts: eCore, w: 2.6 },
        ]} />

      <Name x={47} base={23} l="a" n="2" />
      <Name right={417} base={400} l="a" n="1" />
      <Txt right={425} base={23} size={15}>а)</Txt>

      <Name x={485} base={25} l="y" n="1" />
      <Name right={850} base={403} l="x" n="1" size={22} />
      <Txt right={855} base={23} size={15}>б)</Txt>

      <Name x={902} base={25} l="y" n="2" />
      <Name right={1268} base={401} l="x" n="2" size={22} />
      <Txt right={1268} base={23} size={15}>в)</Txt>

      <Name x={50} base={471} l="a" n="2" />
      <Name right={418} base={848} l="a" n="1" />
      <Txt right={418} base={471} size={15}>г)</Txt>

      <Name x={485} base={472} l="y" n="1" />
      <Name right={855} base={846} l="x" n="1" size={22} />
      <Txt right={855} base={471} size={15}>д)</Txt>

      <Name x={900} base={472} l="y" n="2" />
      <Name right={1268} base={846} l="x" n="2" size={22} />
      <Txt right={1270} base={471} size={15}>е)</Txt>
    </div>
  );
}
